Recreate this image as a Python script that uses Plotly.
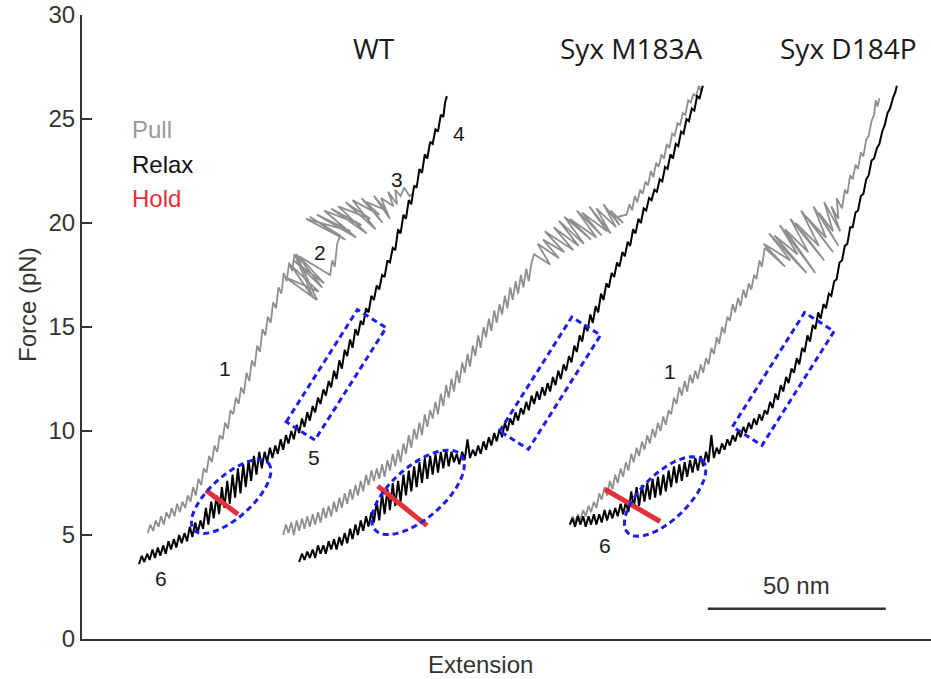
import math
import plotly.graph_objects as go

# ---------------- data (extension in nm, force in pN) ----------------
wt_pull = [
    (18.5, 5.1), (19.2, 5.5), (20.0, 5.2), (20.7, 5.7), (21.5, 5.4), (22.2, 5.9), (23.0, 5.5), (23.7, 6.1),
    (24.5, 5.8), (25.2, 6.3), (26.0, 5.9), (26.7, 6.5), (27.5, 6.1), (28.2, 6.6), (29.0, 6.3), (29.7, 6.9),
    (30.5, 6.6), (31.2, 7.3), (32.0, 6.9), (32.7, 7.7), (33.5, 7.4), (34.2, 8.2), (35.0, 8.0), (35.7, 8.8),
    (36.5, 8.5), (37.2, 9.3), (38.0, 9.0), (38.7, 9.8), (39.5, 9.6), (40.2, 10.4), (41.0, 10.1), (41.7, 11.0),
    (42.5, 10.8), (43.2, 11.6), (44.0, 11.3), (44.7, 12.1), (45.5, 11.8), (46.2, 12.8), (47.0, 12.4), (47.7, 13.4),
    (48.5, 13.1), (49.2, 14.1), (50.0, 13.8), (50.7, 14.9), (51.5, 14.6), (52.2, 15.5), (53.0, 15.2), (53.7, 16.2),
    (54.5, 15.9), (55.2, 16.9), (56.0, 16.6), (56.7, 17.6), (57.5, 17.2), (58.2, 18.1), (59.0, 17.7), (59.7, 18.5),
    (65.0, 16.4), (58.5, 18.0), (66.5, 16.7), (57.0, 17.4), (66.0, 16.3), (60.2, 18.5), (67.5, 16.9), (59.5, 18.2),
    (68.0, 17.1), (61.0, 18.4), (69.7, 17.5),
    (70.3, 18.2), (71.0, 17.9), (71.7, 19.0), (72.5, 19.4),
    (64.0, 20.3), (74.0, 19.2), (63.0, 20.2), (75.5, 19.6), (66.0, 20.4), (77.0, 19.3), (68.0, 20.6), (78.5, 19.9),
    (70.0, 20.7), (80.0, 19.5), (72.0, 20.8), (81.0, 20.2), (74.0, 21.0), (82.5, 19.7), (76.0, 21.1), (83.5, 20.4),
    (78.5, 21.2), (84.5, 20.0), (80.0, 21.0), (85.5, 20.6), (82.0, 21.3), (86.5, 20.2), (84.0, 21.2), (87.5, 20.8),
    (86.0, 21.5), (88.5, 20.9), (88.0, 21.6), (89.5, 21.3), (90.5, 21.7), (91.3, 21.5), (92.0, 21.3), (93.0, 21.4),
]

wt_relax = [
    (16.0, 3.6), (16.8, 4.0), (17.5, 3.7), (18.3, 4.1), (19.0, 3.8), (19.8, 4.3), (20.5, 3.9), (21.3, 4.4),
    (22.0, 4.0), (22.8, 4.5), (23.5, 4.1), (24.3, 4.7), (25.0, 4.3), (25.8, 4.8), (26.5, 4.4), (27.3, 5.0),
    (28.0, 4.6), (28.8, 5.1), (29.5, 4.7), (30.3, 5.4), (31.0, 4.9), (31.8, 5.6), (32.5, 5.1), (33.3, 5.7),
    (34.0, 5.3), (34.8, 6.3), (35.5, 5.5), (36.3, 6.6), (37.0, 5.8), (37.8, 6.9), (38.5, 6.0), (39.3, 7.3),
    (40.0, 6.3), (40.8, 7.6), (41.5, 6.5), (42.3, 7.9), (43.0, 6.8), (43.8, 8.2), (44.5, 7.0), (45.3, 8.4),
    (46.0, 7.3), (46.8, 8.6), (47.5, 7.6), (48.3, 8.8), (49.0, 7.9), (49.8, 9.0), (50.5, 8.2), (51.3, 9.0),
    (52.0, 8.5), (52.8, 9.2), (53.5, 8.7), (54.3, 9.3), (55.0, 8.9), (55.8, 9.6), (56.5, 9.1), (57.3, 9.8),
    (58.0, 9.4), (58.8, 10.0), (59.5, 9.6), (60.3, 10.3), (61.0, 9.9), (61.8, 10.6), (62.5, 10.2), (63.3, 10.9),
    (64.0, 10.5), (64.8, 11.2), (65.5, 10.9), (66.3, 11.6), (67.0, 11.3), (67.8, 12.0), (68.5, 11.7), (69.3, 12.4),
    (70.0, 12.1), (70.8, 12.9), (71.5, 12.5), (72.3, 13.4), (73.0, 13.0), (73.8, 13.9), (74.5, 13.6), (75.3, 14.4),
    (76.0, 14.0), (76.8, 14.9), (77.5, 14.6), (78.3, 15.3), (79.0, 15.1), (79.8, 15.9), (80.5, 15.7), (81.3, 16.5),
    (82.0, 16.3), (82.8, 17.0), (83.5, 16.8), (84.3, 17.5), (85.0, 17.4), (85.8, 18.2), (86.5, 18.1), (87.3, 18.8),
    (88.0, 18.7), (88.8, 19.7), (89.5, 19.5), (90.3, 20.4), (91.0, 20.2), (91.8, 21.1), (92.5, 20.9), (93.3, 21.8),
    (94.0, 21.7), (94.8, 22.6), (95.5, 22.4), (96.3, 23.3), (97.0, 23.1), (97.8, 23.9), (98.5, 23.8), (99.3, 24.5),
    (100.0, 24.4), (100.8, 25.2), (101.5, 25.1), (102.0, 25.8), (102.5, 26.1),
]

m183a_pull = [
    (56.5, 5.0), (57.3, 5.5), (58.0, 5.1), (58.8, 5.6), (59.5, 5.0), (60.3, 5.7), (61.0, 5.2), (61.8, 5.8),
    (62.5, 5.3), (63.3, 5.9), (64.0, 5.4), (64.8, 6.0), (65.5, 5.5), (66.3, 6.1), (67.0, 5.6), (67.8, 6.3),
    (68.5, 5.8), (69.3, 6.4), (70.0, 5.9), (70.8, 6.6), (71.5, 6.1), (72.3, 6.8), (73.0, 6.3), (73.8, 7.0),
    (74.5, 6.5), (75.3, 7.2), (76.0, 6.7), (76.8, 7.4), (77.5, 6.9), (78.3, 7.6), (79.0, 7.1), (79.8, 7.9),
    (80.5, 7.4), (81.3, 8.1), (82.0, 7.6), (82.8, 8.2), (83.5, 7.7), (84.3, 8.4), (85.0, 7.8), (85.8, 8.6),
    (86.5, 8.1), (87.3, 8.9), (88.0, 8.3), (88.8, 9.1), (89.5, 8.5), (90.3, 9.4), (91.0, 8.9), (91.8, 9.8),
    (92.5, 9.2), (93.3, 10.1), (94.0, 9.6), (94.8, 10.4), (95.5, 9.8), (96.3, 10.8), (97.0, 10.2), (97.8, 11.0),
    (98.5, 10.6), (99.3, 11.4), (100.0, 10.8), (100.8, 11.8), (101.5, 11.2), (102.3, 12.2), (103.0, 11.6),
    (103.8, 12.5), (104.5, 11.9), (105.3, 12.9), (106.0, 12.3), (106.8, 13.3), (107.5, 12.8), (108.3, 13.7),
    (109.0, 13.1), (109.8, 14.1), (110.5, 13.6), (111.3, 14.6), (112.0, 14.0), (112.8, 15.0), (113.5, 14.5),
    (114.3, 15.4), (115.0, 14.8), (115.8, 15.8), (116.5, 15.2), (117.3, 16.1), (118.0, 15.6), (118.8, 16.5),
    (119.5, 15.9), (120.3, 16.9), (121.0, 16.3), (121.8, 17.2), (122.5, 16.6), (123.3, 17.5), (124.0, 16.9),
    (124.8, 17.8), (125.5, 17.2), (126.3, 18.1),
    (127.0, 18.5), (131.5, 18.0), (128.0, 19.0), (134.0, 18.3), (129.5, 19.2), (135.5, 18.6), (130.0, 19.6),
    (138.0, 18.7), (132.5, 19.8), (139.5, 18.9), (134.0, 20.1), (141.0, 19.0), (135.5, 20.3), (143.0, 19.2),
    (137.0, 20.2), (144.5, 19.3), (139.0, 20.6), (146.0, 19.4), (140.5, 20.5), (147.5, 19.6), (142.5, 20.8),
    (148.5, 19.5), (144.5, 20.7), (150.0, 19.8), (146.5, 20.9), (151.0, 19.9), (148.5, 20.6), (152.0, 20.0),
    (150.5, 20.3), (153.0, 20.4),
    (153.8, 20.9), (154.5, 20.6), (155.3, 21.3), (156.0, 21.0), (156.8, 21.6), (157.5, 21.4), (158.3, 22.0),
    (159.0, 21.8), (159.8, 22.5), (160.5, 22.2), (161.3, 22.9), (162.0, 22.7), (162.8, 23.3), (163.5, 23.1),
    (164.3, 23.8), (165.0, 23.6), (165.8, 24.3), (166.5, 24.2), (167.3, 24.8), (168.0, 24.7), (168.8, 25.3),
    (169.5, 25.2), (170.3, 25.9), (171.0, 25.8), (171.8, 26.2), (172.5, 26.1), (173.3, 26.6), (174.0, 26.3),
]

m183a_relax = [
    (61.0, 3.7), (61.8, 4.1), (62.5, 3.8), (63.3, 4.2), (64.0, 3.9), (64.8, 4.3), (65.5, 3.9), (66.3, 4.5),
    (67.0, 4.1), (67.8, 4.5), (68.5, 4.1), (69.3, 4.7), (70.0, 4.3), (70.8, 4.8), (71.5, 4.3), (72.3, 4.9),
    (73.0, 4.5), (73.8, 5.1), (74.5, 4.6), (75.3, 5.3), (76.0, 4.8), (76.8, 5.5), (77.5, 5.0), (78.3, 5.7),
    (79.0, 5.2), (79.8, 5.9), (80.5, 5.4), (81.3, 6.1), (82.0, 5.6), (82.8, 6.6), (83.5, 5.7), (84.3, 7.0),
    (85.0, 6.0), (85.8, 7.2), (86.5, 6.2), (87.3, 7.5), (88.0, 6.4), (88.8, 7.6), (89.5, 6.6), (90.3, 7.9),
    (91.0, 6.9), (91.8, 8.1), (92.5, 7.1), (93.3, 8.3), (94.0, 7.3), (94.8, 8.5), (95.5, 7.5), (96.3, 8.7),
    (97.0, 7.7), (97.8, 8.8), (98.5, 7.9), (99.3, 8.9), (100.0, 8.0), (100.8, 9.0), (101.5, 8.2), (102.3, 9.1),
    (103.0, 8.3), (103.8, 9.0), (104.5, 8.5), (105.3, 8.9), (106.0, 8.4), (106.8, 9.0), (107.5, 8.6),
    (108.3, 9.6), (109.0, 8.7), (109.8, 9.1), (110.5, 8.8), (111.3, 9.3), (112.0, 8.9), (112.8, 9.5),
    (113.5, 9.1), (114.3, 9.7), (115.0, 9.3), (115.8, 9.9), (116.5, 9.5), (117.3, 10.1), (118.0, 9.7),
    (118.8, 10.4), (119.5, 10.0), (120.3, 10.6), (121.0, 10.3), (121.8, 10.9), (122.5, 10.5), (123.3, 11.1),
    (124.0, 10.8), (124.8, 11.4), (125.5, 11.0), (126.3, 11.7), (127.0, 11.3), (127.8, 11.9), (128.5, 11.5),
    (129.3, 12.1), (130.0, 11.7), (130.8, 12.3), (131.5, 11.9), (132.3, 12.6), (133.0, 12.2), (133.8, 12.9),
    (134.5, 12.5), (135.3, 13.2), (136.0, 12.9), (136.8, 13.6), (137.5, 13.3), (138.3, 14.1), (139.0, 13.8),
    (139.8, 14.6), (140.5, 14.3), (141.3, 15.1), (142.0, 14.8), (142.8, 15.6), (143.5, 15.2), (144.3, 16.0),
    (145.0, 15.7), (145.8, 16.6), (146.5, 16.3), (147.3, 17.1), (148.0, 16.9), (148.8, 17.6), (149.5, 17.4),
    (150.3, 18.1), (151.0, 17.9), (151.8, 18.6), (152.5, 18.4), (153.3, 19.1), (154.0, 18.9), (154.8, 19.7),
    (155.5, 19.5), (156.3, 20.2), (157.0, 20.0), (157.8, 20.7), (158.5, 20.6), (159.3, 21.2), (160.0, 21.1),
    (160.8, 21.6), (161.5, 21.5), (162.3, 22.1), (163.0, 22.0), (163.8, 22.7), (164.5, 22.6), (165.3, 23.3),
    (166.0, 23.1), (166.8, 23.8), (167.5, 23.7), (168.3, 24.4), (169.0, 24.3), (169.8, 25.0), (170.5, 24.9),
    (171.3, 25.5), (172.0, 25.4), (172.8, 26.1), (173.5, 26.0), (174.4, 26.6),
]

d184p_pull = [
    (137.0, 5.5), (137.8, 5.9), (138.5, 5.6), (139.3, 6.0), (140.0, 5.7), (140.8, 6.2), (141.5, 5.9), (142.3, 6.4),
    (143.0, 6.1), (143.8, 6.6), (144.5, 6.3), (145.3, 7.0), (146.0, 6.7), (146.8, 7.3), (147.5, 6.9), (148.3, 7.6),
    (149.0, 7.2), (149.8, 7.9), (150.5, 7.5), (151.3, 8.2), (152.0, 7.8), (152.8, 8.5), (153.5, 8.1), (154.3, 8.9),
    (155.0, 8.5), (155.8, 9.2), (156.5, 8.8), (157.3, 9.5), (158.0, 9.1), (158.8, 9.8), (159.5, 9.4), (160.3, 10.1),
    (161.0, 9.7), (161.8, 10.4), (162.5, 10.0), (163.3, 10.7), (164.0, 10.3), (164.8, 11.0), (165.5, 10.8),
    (166.3, 11.6), (167.0, 11.3), (167.8, 12.1), (168.5, 11.7), (169.3, 12.4), (170.0, 11.9), (170.8, 12.7),
    (171.5, 12.3), (172.3, 12.9), (173.0, 12.5), (173.8, 13.2), (174.5, 12.8), (175.3, 13.5), (176.0, 13.2),
    (176.8, 14.0), (177.5, 13.7), (178.3, 14.5), (179.0, 14.2), (179.8, 15.0), (180.5, 14.7), (181.3, 15.5),
    (182.0, 15.3), (182.8, 16.1), (183.5, 15.7), (184.3, 16.4), (185.0, 16.0), (185.8, 16.8), (186.5, 16.4),
    (187.3, 17.1), (188.0, 16.8), (188.8, 17.5), (189.5, 17.3), (190.3, 18.2), (191.0, 17.9), (191.8, 18.8),
    (197.5, 17.9), (191.5, 19.0), (199.0, 18.2), (193.0, 19.5), (203.5, 17.6), (194.5, 19.4), (201.0, 18.5),
    (196.0, 19.9), (206.0, 17.6), (197.5, 19.7), (204.0, 18.6), (199.0, 20.2), (208.5, 18.2), (200.5, 20.0),
    (207.0, 18.9), (202.0, 20.6), (211.0, 18.6), (203.5, 20.3), (209.0, 19.3), (205.5, 20.8), (212.5, 18.9),
    (207.0, 20.5), (211.0, 19.6), (208.5, 21.0), (213.0, 19.6), (210.5, 20.8), (212.5, 20.2), (212.0, 21.2),
    (213.5, 20.7),
    (214.3, 21.6), (215.0, 21.4), (215.8, 22.3), (216.5, 22.1), (217.3, 22.8), (218.0, 22.6), (218.8, 23.4),
    (219.5, 23.2), (220.3, 24.0), (221.0, 24.2), (221.8, 24.9), (222.5, 25.2), (223.0, 25.9), (223.5, 25.6),
    (224.0, 26.0),
]

d184p_relax = [
    (137.0, 5.5), (137.8, 5.8), (138.5, 5.4), (139.3, 5.9), (140.0, 5.5), (140.8, 5.9), (141.5, 5.4), (142.3, 5.9),
    (143.0, 5.5), (143.8, 6.0), (144.5, 5.5), (145.3, 6.0), (146.0, 5.6), (146.8, 6.2), (147.5, 5.7), (148.3, 6.2),
    (149.0, 5.8), (149.8, 6.3), (150.5, 5.9), (151.3, 6.5), (152.0, 6.0), (152.8, 6.6), (153.5, 6.1), (154.3, 7.1),
    (155.0, 6.3), (155.8, 7.3), (156.5, 6.4), (157.3, 7.4), (158.0, 6.6), (158.8, 7.5), (159.5, 6.7), (160.3, 7.7),
    (161.0, 6.8), (161.8, 7.8), (162.5, 6.9), (163.3, 7.9), (164.0, 7.1), (164.8, 8.1), (165.5, 7.3), (166.3, 8.3),
    (167.0, 7.5), (167.8, 8.4), (168.5, 7.6), (169.3, 8.5), (170.0, 7.8), (170.8, 8.6), (171.5, 8.0), (172.3, 8.7),
    (173.0, 8.1), (173.8, 8.8), (174.5, 8.3), (175.3, 9.0), (176.0, 8.5), (176.8, 9.8), (177.5, 8.7), (178.3, 9.2),
    (179.0, 8.9), (179.8, 9.4), (180.5, 9.1), (181.3, 9.6), (182.0, 9.3), (182.8, 9.8), (183.5, 9.5), (184.3, 10.0),
    (185.0, 9.7), (185.8, 10.2), (186.5, 9.9), (187.3, 10.4), (188.0, 10.1), (188.8, 10.6), (189.5, 10.3),
    (190.3, 10.8), (191.0, 10.5), (191.8, 11.0), (192.5, 10.8), (193.3, 11.4), (194.0, 11.1), (194.8, 11.8),
    (195.5, 11.5), (196.3, 12.2), (197.0, 11.9), (197.8, 12.6), (198.5, 12.3), (199.3, 13.0), (200.0, 12.8),
    (200.8, 13.5), (201.5, 13.2), (202.3, 14.0), (203.0, 13.8), (203.8, 14.6), (204.5, 14.3), (205.3, 15.1),
    (206.0, 14.9), (206.8, 15.7), (207.5, 15.4), (208.3, 16.1), (209.0, 15.9), (209.8, 16.6), (210.5, 16.5),
    (211.3, 17.2), (212.0, 17.3), (212.8, 18.1), (213.5, 18.2), (214.3, 18.9), (215.0, 19.0), (215.8, 19.8),
    (216.5, 19.8), (217.3, 20.5), (218.0, 20.6), (218.8, 21.3), (219.5, 21.4), (220.3, 22.1), (221.0, 22.3),
    (221.8, 23.0), (222.5, 23.1), (223.3, 23.6), (224.0, 23.8), (224.8, 24.4), (225.5, 24.7), (226.3, 25.3),
    (227.0, 25.5), (227.8, 26.0), (228.5, 26.3), (228.9, 26.6),
]

# hold segments (start, end) per construct
hold_segments = [
    [(34.8, 7.15), (43.8, 6.0)],
    [(83.1, 7.35), (96.9, 5.45)],
    [(146.9, 7.2), (162.4, 5.65)],
]

# highlight ellipses: centre (nm, pN), semi-axes (px), rotation (deg, screen)
ellipse_centres = [(41.9, 6.85), (94.4, 7.05), (163.8, 6.85)]
ellipse_axes = [(50, 21), (57, 26), (52, 23)]
ellipse_angles = [-42, -41, -44]

# highlight boxes: centre (nm, pN), length & width (px), rotation (deg, screen)
box_centres = [(71.4, 12.7), (131.5, 12.3), (197.0, 12.5)]
box_sizes = [(133, 34), (135, 34), (135, 35)]
box_angles = [-57.6, -57.7, -57.7]

construct_labels = ["WT", "Syx M183A", "Syx D184P"]
construct_label_x = [82.0, 154.5, 215.2]

state_labels = ["1", "2", "3", "4", "5", "6", "1", "6"]
state_label_pos = [(40.2, 13.0), (66.9, 18.6), (88.5, 22.1), (105.9, 24.3),
                   (65.2, 8.75), (22.2, 2.9), (165.2, 12.85), (146.9, 4.5)]

legend_items = ["Pull", "Relax", "Hold"]
legend_colors = ["#999999", "#111111", "#e3303a"]
legend_y = [24.5, 22.8, 21.2]

y_ticks = [0, 5, 10, 15, 20, 25, 30]
scale_bar_nm = 50
scale_bar_start = 175.8

# ---------------- layout geometry ----------------
W, H = 931, 679
ML, MR, MT, MB = 82, 0, 15, 40
X_MAX = 238.5
Y_MAX = 30
PX_NM = (W - ML - MR) / X_MAX
PX_PN = (H - MT - MB) / Y_MAX

BLUE = "#1e1ee6"
GRAY = "#8f8f8f"

fig = go.Figure()


def add_curve(points, color, width):
    fig.add_trace(go.Scatter(x=[p[0] for p in points], y=[p[1] for p in points],
                             mode="lines", line=dict(color=color, width=width),
                             hoverinfo="skip", showlegend=False))


for pull, relax in [(wt_pull, wt_relax), (m183a_pull, m183a_relax), (d184p_pull, d184p_relax)]:
    add_curve(pull, GRAY, 1.8)
    add_curve(relax, "#000000", 2.0)

for seg in hold_segments:
    fig.add_trace(go.Scatter(x=[p[0] for p in seg], y=[p[1] for p in seg], mode="lines",
                             line=dict(color="#e3303a", width=5), hoverinfo="skip", showlegend=False))


def to_data(cx, cy, dx_px, dy_px):
    return cx + dx_px / PX_NM, cy - dy_px / PX_PN


shapes = []
for (cx, cy), (a, b), ang in zip(ellipse_centres, ellipse_axes, ellipse_angles):
    th = math.radians(ang)
    pts = []
    for k in range(73):
        t = 2 * math.pi * k / 72
        u, v = a * math.cos(t), b * math.sin(t)
        dx = u * math.cos(th) - v * math.sin(th)
        dy = u * math.sin(th) + v * math.cos(th)
        pts.append(to_data(cx, cy, dx, dy))
    path = "M " + " L ".join(f"{x:.3f},{y:.3f}" for x, y in pts) + " Z"
    shapes.append(dict(type="path", path=path, xref="x", yref="y",
                       line=dict(color=BLUE, width=3, dash="6px,4px")))

for (cx, cy), (L, Wd), ang in zip(box_centres, box_sizes, box_angles):
    th = math.radians(ang)
    ux, uy = math.cos(th), math.sin(th)
    vx, vy = -math.sin(th), math.cos(th)
    corners = []
    for sl, sw in [(-1, -1), (1, -1), (1, 1), (-1, 1)]:
        dx = sl * L / 2 * ux + sw * Wd / 2 * vx
        dy = sl * L / 2 * uy + sw * Wd / 2 * vy
        corners.append(to_data(cx, cy, dx, dy))
    path = "M " + " L ".join(f"{x:.3f},{y:.3f}" for x, y in corners) + " Z"
    shapes.append(dict(type="path", path=path, xref="x", yref="y",
                       line=dict(color=BLUE, width=3, dash="6px,4px")))

# scale bar
shapes.append(dict(type="line", xref="x", yref="y", x0=scale_bar_start, x1=scale_bar_start + scale_bar_nm,
                   y0=1.45, y1=1.45, line=dict(color="#333333", width=2.5)))

annotations = []
for txt, x in zip(construct_labels, construct_label_x):
    annotations.append(dict(x=x, y=28.4, xref="x", yref="y", text=txt, showarrow=False,
                            font=dict(family="Open Sans", size=28, color="#1a1a1a")))
for txt, (x, y) in zip(state_labels, state_label_pos):
    annotations.append(dict(x=x, y=y, xref="x", yref="y", text=txt, showarrow=False,
                            font=dict(family="Liberation Sans, Arial", size=21, color="#1a1a1a")))
for txt, col, y in zip(legend_items, legend_colors, legend_y):
    annotations.append(dict(x=13.6, y=y, xref="x", yref="y", text=txt, showarrow=False, xanchor="left",
                            font=dict(family="Liberation Sans, Arial", size=24, color=col)))
annotations.append(dict(x=scale_bar_start + scale_bar_nm / 2, y=2.55, xref="x", yref="y", text="50 nm",
                        showarrow=False, font=dict(family="Liberation Sans, Arial", size=24, color="#333333")))
annotations.append(dict(x=(27 - ML) / (W - ML - MR), y=(639 - 305) / (H - MT - MB), xref="paper", yref="paper",
                        xanchor="center", yanchor="middle",
                        text="Force (pN)", textangle=-90, showarrow=False,
                        font=dict(family="Liberation Sans, Arial", size=24, color="#333333")))
annotations.append(dict(x=(480 - ML) / (W - ML - MR), y=(639 - 664) / (H - MT - MB), xref="paper", yref="paper",
                        xanchor="center", yanchor="middle",
                        text="Extension", showarrow=False,
                        font=dict(family="Liberation Sans, Arial", size=24, color="#333333")))

fig.update_layout(
    width=W, height=H,
    margin=dict(l=ML, r=MR, t=MT, b=MB),
    paper_bgcolor="white", plot_bgcolor="white",
    shapes=shapes, annotations=annotations,
    xaxis=dict(range=[0, X_MAX], showgrid=False, zeroline=False, showticklabels=False, ticks="",
               showline=True, linecolor="#333333", linewidth=2),
    yaxis=dict(range=[0, Y_MAX], showgrid=False, zeroline=False, tickvals=y_ticks, ticks="inside",
               ticklen=10, tickwidth=2, tickcolor="#333333", showline=True, linecolor="#333333", linewidth=2,
               tickfont=dict(family="Liberation Sans, Arial", size=24, color="#333333")),
    showlegend=False,
)

fig.write_html("out.html", config={"displayModeBar": False},
               post_script="document.body.style.margin='0';")
